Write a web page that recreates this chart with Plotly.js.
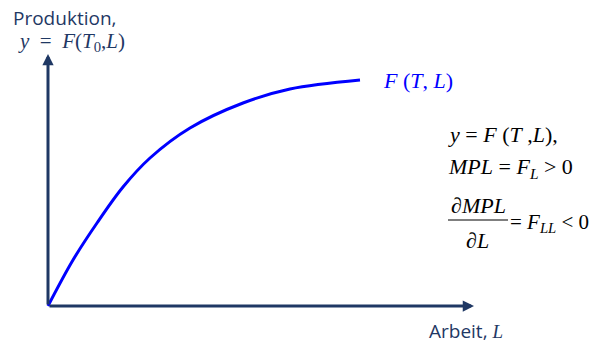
<!DOCTYPE html>
<html>
<head>
<meta charset="utf-8">
<script src="https://cdn.plot.ly/plotly-3.0.1.min.js"></script>
<style>html,body{margin:0;padding:0;background:#fff;}#chart{width:601px;height:345px;}</style>
</head>
<body>
<div id="chart"></div>
<script>
// Data (labour input vs. output, arbitrary units)
var labour = [0, 25, 49, 75, 102, 142, 195, 242, 312];
var output = [0, 46, 83, 119, 148, 178, 203, 217, 226];
var axisXEnd = 426;   // end of labour axis (arrow tip)
var axisYEnd = 252;   // end of output axis (arrow tip)

var navy = '#1f3864';
var blue = '#0000ff';
var sans = 'Open Sans, sans-serif';
var serif = 'Liberation Serif, Times New Roman, serif';

function px(x){ return x/601; }
function py(y){ return 1 - y/345; }

var trace = {
  x: labour, y: output, type: 'scatter', mode: 'lines',
  line: {color: blue, width: 3, shape: 'spline', smoothing: 1},
  hoverinfo: 'skip'
};

function txt(x, y, t, font, xa){
  return {xref:'paper', yref:'paper', x:px(x), y:py(y), text:t, showarrow:false,
          xanchor: xa || 'left', yanchor:'middle', font:font};
}
var eqFont = {family: serif, size: 22, color: '#000'};

var annotations = [
  // axes with arrows
  {xref:'x', yref:'y', axref:'x', ayref:'y', x:0, y:axisYEnd, ax:0, ay:0, showarrow:true,
   arrowhead:2, arrowsize:0.75, arrowwidth:3, arrowcolor:navy, standoff:0, startstandoff:0, text:''},
  {xref:'x', yref:'y', axref:'x', ayref:'y', x:axisXEnd, y:0, ax:0, ay:0, showarrow:true,
   arrowhead:2, arrowsize:0.75, arrowwidth:3, arrowcolor:navy, standoff:0, startstandoff:0, text:''},
  txt(11, 18, 'Produktion,', {family: sans, size: 19, color: navy}),
  txt(16, 42, '<i>y</i>  =  <i>F</i>(<i>T</i><sub>0</sub>,<i>L</i>)', {family: serif, size: 21, color: navy}),
  txt(381, 81, '<i>F</i> (<i>T</i>, <i>L</i>)', {family: serif, size: 22, color: blue}),
  txt(446, 134, '<i>y</i> = <i>F</i> (<i>T</i> ,<i>L</i>),', eqFont),
  txt(446, 168, '<i>MPL</i> = <i>F<sub>L</sub></i> > 0', eqFont),
  txt(478, 205, '∂<i>MPL</i>', eqFont, 'center'),
  txt(477, 240, '∂<i>L</i>', eqFont, 'center'),
  txt(508, 223, '= <i>F<sub>LL</sub></i> < 0', {family: serif, size: 21, color: '#000'}),
  txt(427, 331, 'Arbeit, <i style="font-family:Liberation Serif">L</i>', {family: sans, size: 19, color: navy})
];

var layout = {
  width: 601, height: 345,
  margin: {l:0, r:0, t:0, b:0, pad:0},
  paper_bgcolor: '#fff', plot_bgcolor: '#fff',
  showlegend: false,
  xaxis: {range: [-48, 553], visible: false, fixedrange: true},
  yaxis: {range: [-39, 306], visible: false, fixedrange: true},
  shapes: [
    {type:'line', xref:'paper', yref:'paper', x0:px(448), x1:px(508), y0:py(220), y1:py(220),
     line:{color:'#000', width:1.2}}
  ],
  annotations: annotations
};

Plotly.newPlot('chart', [trace], layout, {displayModeBar: false, staticPlot: true});
</script>
</body>
</html>
